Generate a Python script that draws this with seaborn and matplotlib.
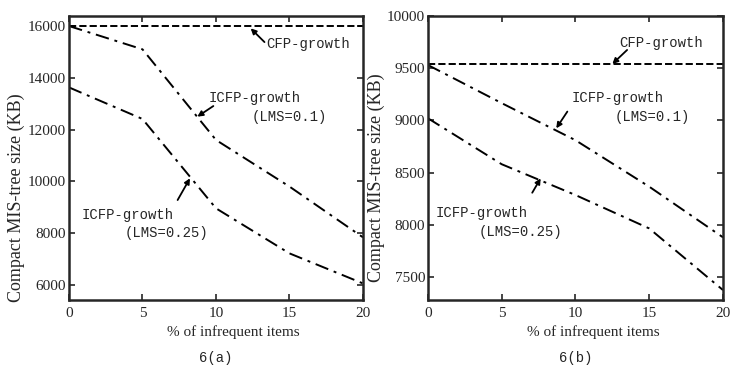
import matplotlib
matplotlib.use("Agg")
import matplotlib.pyplot as plt
import seaborn as sns
import pandas as pd

# % of infrequent items
pct = [0, 5, 10, 15, 20]

# panel 6(a)
a_cfp = [16000, 16000, 16000, 16000, 16000]
a_lms01 = [16000, 15100, 11600, 9800, 7840]
a_lms025 = [13630, 12410, 8960, 7220, 6060]

# panel 6(b)
b_cfp = [9540, 9540, 9540, 9540, 9540]
b_lms01 = [9530, 9165, 8810, 8365, 7880]
b_lms025 = [9020, 8580, 8285, 7965, 7375]

sns.set_style("ticks")
plt.rcParams["font.family"] = ["Liberation Serif", "DejaVu Serif"]
mono = ["Liberation Mono", "DejaVu Sans Mono"]

fig = plt.figure(figsize=(7.34, 3.67), dpi=100)
ax_a = fig.add_axes([0.094, 0.1826, 0.4005, 0.774])
ax_b = fig.add_axes([0.583, 0.1826, 0.402, 0.774])


def draw_panel(ax, cfp, lms01, lms025, ylim, yticks, ylab_xy, caption):
    df = pd.DataFrame({"pct": pct, "cfp": cfp, "lms01": lms01, "lms025": lms025})
    sns.lineplot(data=df, x="pct", y="cfp", ax=ax, color="k", lw=1.4, linestyle="--")
    sns.lineplot(data=df, x="pct", y="lms01", ax=ax, color="k", lw=1.4,
                 linestyle=(0, (7, 3, 1.5, 3)))
    sns.lineplot(data=df, x="pct", y="lms025", ax=ax, color="k", lw=1.4,
                 linestyle=(0, (7, 3, 1.5, 3)))
    ax.set_xlim(0, 20)
    ax.set_ylim(*ylim)
    ax.set_xticks(pct)
    ax.set_yticks(yticks)
    ax.tick_params(direction="in", top=True, right=True, length=4, width=1.2,
                   labelsize=11, pad=2)
    ax.tick_params(axis="x", pad=5)
    for s in ax.spines.values():
        s.set_linewidth(1.8)
    ax.set_xlabel("% of infrequent items", fontsize=11, x=0.56, labelpad=4)
    ax.set_ylabel("Compact MIS-tree size (KB)", fontsize=13)
    ax.yaxis.set_label_coords(*ylab_xy)
    ax.text(0.5, -0.204, caption, transform=ax.transAxes, family=mono,
            fontsize=10, ha="center", va="center")


draw_panel(ax_a, a_cfp, a_lms01, a_lms025, (5420, 16390),
           [6000, 8000, 10000, 12000, 14000, 16000], (-0.15, 0.36), "6(a)")
draw_panel(ax_b, b_cfp, b_lms01, b_lms025, (7280, 10000),
           [7500, 8000, 8500, 9000, 9500, 10000], (-0.145, 0.43), "6(b)")

# annotation texts (left edge, centre) and arrows (head, tail)
notes_a = [("CFP-growth", (13.45, 15290)), ("ICFP-growth", (9.48, 13210)),
           ("(LMS=0.1)", (12.43, 12475)), ("ICFP-growth", (0.86, 8700)),
           ("(LMS=0.25)", (3.81, 8000))]
notes_b = [("CFP-growth", (12.95, 9738)), ("ICFP-growth", (9.72, 9212)),
           ("(LMS=0.1)", (12.66, 9030)), ("ICFP-growth", (0.52, 8110)),
           ("(LMS=0.25)", (3.41, 7928))]
arrows_a = [((12.36, 15910), (13.3, 15380)), ((8.73, 12500), (9.82, 12910)),
            ((8.23, 10120), (7.39, 9280))]
arrows_b = [((12.5, 9540), (13.5, 9674)), ((8.7, 8924), (9.45, 9084)),
            ((7.64, 8445), (7.07, 8307))]

for ax, notes, arrows in [(ax_a, notes_a, arrows_a), (ax_b, notes_b, arrows_b)]:
    for txt, pos in notes:
        ax.text(pos[0], pos[1], txt, family=mono, fontsize=10, ha="left", va="center")
    for head, tail in arrows:
        ax.annotate("", xy=head, xytext=tail,
                    arrowprops=dict(arrowstyle="-|>", color="k", lw=1.3,
                                    mutation_scale=8, shrinkA=0, shrinkB=0))

fig.savefig("out.png", dpi=100)
